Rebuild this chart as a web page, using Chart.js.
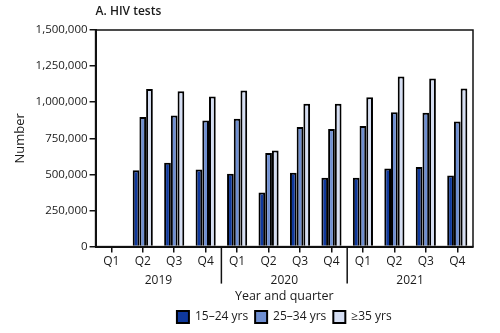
<!DOCTYPE html>
<html>
<head>
<meta charset="utf-8">
<script src="https://cdn.jsdelivr.net/npm/chart.js@4"></script>
<style>
  html, body { margin: 0; padding: 0; background: #fff; }
  #wrap { width: 500px; height: 333px; }
</style>
</head>
<body>
<div id="wrap"><canvas id="hiv-tests"></canvas></div>
<script>
const quarters = ["Q1", "Q2", "Q3", "Q4", "Q1", "Q2", "Q3", "Q4", "Q1", "Q2", "Q3", "Q4"];
const years = ["2019", "2020", "2021"];

const age15to24 = [null, 529000, 580000, 534000, 504000, 375000, 511000, 476000, 476000, 540000, 552000, 492000];
const age25to34 = [null, 897000, 908000, 874000, 885000, 649000, 828000, 814000, 835000, 931000, 927000, 867000];
const age35plus = [null, 1092000, 1076000, 1040000, 1081000, 665000, 989000, 989000, 1035000, 1178000, 1164000, 1095000];

const FONT = "'Open Sans', sans-serif";

// year labels + separators under the quarter ticks, and the box round the plot
const yearAxisPlugin = {
  id: "yearAxis",
  afterDraw(chart) {
    const ctx = chart.ctx;
    const x = chart.scales.x;
    const area = chart.chartArea;
    ctx.save();
    ctx.strokeStyle = "#111";
    ctx.lineWidth = 1.5;
    ctx.strokeRect(area.left, area.top, area.right - area.left, area.bottom - area.top);

    ctx.fillStyle = "#1a1a1a";
    ctx.font = "12px " + FONT;
    ctx.textAlign = "center";
    ctx.textBaseline = "middle";
    years.forEach((yr, i) => {
      const mid = (x.getPixelForValue(i * 4 + 1) + x.getPixelForValue(i * 4 + 2)) / 2;
      ctx.fillText(yr, mid, area.bottom + 34);
      if (i > 0) {
        const sep = (x.getPixelForValue(i * 4 - 1) + x.getPixelForValue(i * 4)) / 2;
        ctx.beginPath();
        ctx.moveTo(sep, area.bottom);
        ctx.lineTo(sep, area.bottom + 37);
        ctx.stroke();
      }
    });

    ctx.font = "600 12px " + FONT;
    ctx.textAlign = "left";
    ctx.fillText("A. HIV tests", area.left, 12);
    ctx.restore();
  },
};

new Chart(document.getElementById("hiv-tests"), {
  type: "bar",
  data: {
    labels: quarters,
    datasets: [
      { label: "15–24 yrs", data: age15to24, backgroundColor: "#0f389c" },
      { label: "25–34 yrs", data: age25to34, backgroundColor: "#6f8fd2" },
      { label: "≥35 yrs", data: age35plus, backgroundColor: "#d5def3" },
    ],
  },
  options: {
    responsive: true,
    maintainAspectRatio: false,
    animation: false,
    layout: { padding: { top: 30, right: 27, left: 12, bottom: 0 } },
    datasets: {
      bar: {
        borderColor: "#000",
        borderWidth: 2,
        categoryPercentage: 0.64,
        barPercentage: 1.0,
      },
    },
    scales: {
      x: {
        grid: { offset: false, drawOnChartArea: false, tickLength: 6, color: "#111", lineWidth: 1.5 },
        border: { color: "#111", width: 2 },
        ticks: { color: "#1a1a1a", font: { family: FONT, size: 12 }, padding: 2 },
        title: {
          display: true,
          text: "Year and quarter",
          color: "#1a1a1a",
          font: { family: FONT, size: 12.5 },
          padding: { top: 18, bottom: 0 },
        },
      },
      y: {
        min: 0,
        max: 1500000,
        ticks: {
          stepSize: 250000,
          color: "#1a1a1a",
          font: { family: FONT, size: 11.5 },
          padding: 2,
          callback: (v) => v.toLocaleString("en-US"),
        },
        grid: { drawOnChartArea: false, tickLength: 6, color: "#111", lineWidth: 1.5 },
        border: { color: "#111", width: 2 },
        title: {
          display: true,
          text: "Number",
          color: "#1a1a1a",
          font: { family: FONT, size: 13 },
          padding: { top: 0, bottom: 6 },
        },
      },
    },
    plugins: {
      legend: {
        position: "bottom",
        fullSize: false,
        labels: {
          boxWidth: 12,
          boxHeight: 12,
          padding: 7,
          color: "#1a1a1a",
          font: { family: FONT, size: 12 },
        },
      },
      title: { display: false },
      tooltip: { enabled: false },
    },
  },
  plugins: [yearAxisPlugin],
});
</script>
</body>
</html>
